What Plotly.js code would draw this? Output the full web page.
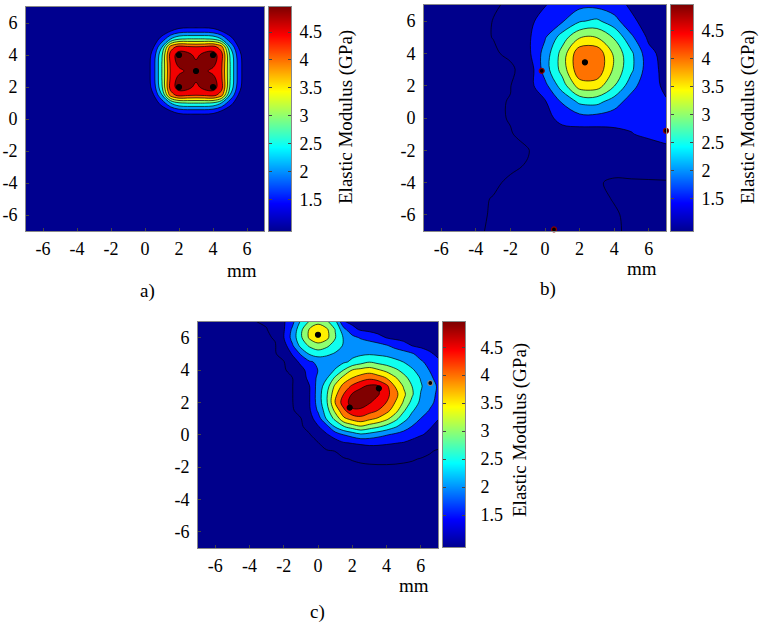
<!DOCTYPE html>
<html><head><meta charset="utf-8">
<script src="https://cdn.plot.ly/plotly-3.0.1.min.js"></script>
<style>html,body{margin:0;padding:0;background:#fff}#chart{width:762px;height:622px}</style>
</head><body><div id="chart"></div>
<script>
// ---------- panel a) field (mm grid) ----------
const aX = [-7,-1,0,0.5,1,1.5,2,2.5,3,3.5,4,4.5,5,5.5,6,7];
const aY = [-7,-1,0,0.5,1,1.5,2,2.5,3,3.5,4,4.5,5,5.5,6,7];
const aZ = [
 [1.02,1.02,1.02,1.02,1.02,1.02,1.02,1.02,1.02,1.02,1.02,1.02,1.02,1.02,1.02,1.02],
 [1.02,1.02,1.02,1.02,1.02,1.02,1.02,1.02,1.02,1.02,1.02,1.02,1.02,1.02,1.02,1.02],
 [1.02,1.02,1.02,1.02,1.02,1.03,1.03,1.03,1.03,1.03,1.03,1.03,1.02,1.02,1.02,1.02],
 [1.02,1.02,1.02,1.03,1.18,1.48,1.72,1.8,1.8,1.8,1.72,1.48,1.18,1.03,1.02,1.02],
 [1.02,1.02,1.02,1.18,1.7,2.48,2.95,3.02,3.02,3.02,2.95,2.48,1.7,1.18,1.02,1.02],
 [1.02,1.02,1.03,1.48,2.48,4.25,4.7,4.6,4.55,4.6,4.7,4.25,2.48,1.48,1.03,1.02],
 [1.02,1.02,1.03,1.72,2.95,4.7,5.25,5.2,4.85,5.2,5.25,4.7,2.95,1.72,1.03,1.02],
 [1.02,1.02,1.03,1.8,3.02,4.6,5.2,5.2,5.1,5.2,5.2,4.6,3.02,1.8,1.03,1.02],
 [1.02,1.02,1.03,1.8,3.02,4.55,4.85,5.1,5.3,5.1,4.85,4.55,3.02,1.8,1.03,1.02],
 [1.02,1.02,1.03,1.8,3.02,4.6,5.2,5.2,5.1,5.2,5.2,4.6,3.02,1.8,1.03,1.02],
 [1.02,1.02,1.03,1.72,2.95,4.7,5.25,5.2,4.85,5.2,5.25,4.7,2.95,1.72,1.03,1.02],
 [1.02,1.02,1.03,1.48,2.48,4.25,4.7,4.6,4.55,4.6,4.7,4.25,2.48,1.48,1.03,1.02],
 [1.02,1.02,1.02,1.18,1.7,2.48,2.95,3.02,3.02,3.02,2.95,2.48,1.7,1.18,1.02,1.02],
 [1.02,1.02,1.02,1.03,1.18,1.48,1.72,1.8,1.8,1.8,1.72,1.48,1.18,1.03,1.02,1.02],
 [1.02,1.02,1.02,1.02,1.02,1.03,1.03,1.03,1.03,1.03,1.03,1.03,1.02,1.02,1.02,1.02],
 [1.02,1.02,1.02,1.02,1.02,1.02,1.02,1.02,1.02,1.02,1.02,1.02,1.02,1.02,1.02,1.02]
];
const aDotX = [2,2,4,4,3];
const aDotY = [2,4,2,4,3];

// ---------- panel b) field ----------
const bX = [-7,-6,-5,-4,-3,-2,-1,0,1,2,3,4,5,6,7];
const bY = [-7,-6,-5,-4,-3,-2,-1,0,1,2,3,4,5,6,7];
const bZ = [
 [0.96,0.96,0.96,0.98,1.02,1.04,1.05,1.07,1.07,1.05,1.03,1.015,0.98,0.97,0.97],
 [0.96,0.96,0.96,0.98,1.01,1.03,1.04,1.05,1.05,1.04,1.03,1.01,0.98,0.97,0.97],
 [0.96,0.96,0.96,0.98,1.005,1.02,1.03,1.04,1.04,1.03,1.02,0.995,0.98,0.98,0.98],
 [0.96,0.96,0.96,0.97,0.98,1.02,1.04,1.05,1.05,1.04,1.01,0.984,0.985,0.986,0.988],
 [0.96,0.96,0.96,0.96,0.97,0.98,1.01,1.06,1.08,1.08,1.05,1.04,1.05,1.06,1.07],
 [0.96,0.96,0.96,0.96,0.96,0.97,0.99,1.1,1.15,1.15,1.15,1.15,1.2,1.25,1.3],
 [0.96,0.96,0.96,0.96,0.97,0.99,1.05,1.2,1.3,1.25,1.25,1.35,1.48,1.6,1.8],
 [0.96,0.96,0.96,0.96,0.97,1.01,1.1,1.35,1.65,1.8,1.8,1.72,1.62,1.6,1.7],
 [0.96,0.96,0.96,0.96,0.97,1.01,1.15,1.45,2.05,2.6,2.65,2.25,1.75,1.6,1.52],
 [0.96,0.96,0.96,0.96,0.97,0.99,1.3,1.85,2.75,3.75,3.75,3.03,2.2,1.6,1.45],
 [0.96,0.96,0.96,0.96,0.96,0.97,1.08,2.25,3.2,4.38,4.38,3.4,2.6,1.7,1.35],
 [0.96,0.96,0.96,0.97,0.98,1.03,1.35,2.2,3.2,4.38,4.38,3.4,2.6,1.65,1.3],
 [0.96,0.96,0.96,0.97,1.003,1.1,1.4,1.95,2.75,3.45,3.48,2.95,2.1,1.4,1.25],
 [0.96,0.96,0.96,0.97,1.003,1.1,1.4,1.65,1.95,2.45,2.6,2.2,1.6,1.3,1.15],
 [0.96,0.96,0.96,0.96,0.97,1.04,1.2,1.48,1.7,1.85,1.85,1.7,1.42,1.25,1.12]
];
const bPeakX = [2.31];
const bPeakY = [3.45];
const bEdgeX = [-0.19,7.0,0.52];
const bEdgeY = [2.92,-0.79,-6.9];

// ---------- panel c) field ----------
const cX = [-7,-4,-3,-2.5,-2,-1.5,-1,-0.5,0,0.5,1,1.5,2,2.5,3,3.5,4,4.5,5,5.5,6,6.5,7];
const cY = [-7,-4,-2,-1.5,-1,-0.5,0,0.5,1,1.5,2,2.5,3,3.5,4,4.5,5,5.5,6,6.5,7];
const cZ = [
 [0.96,0.96,0.96,0.96,0.96,0.96,0.96,0.96,0.96,0.96,0.96,0.96,0.96,0.96,0.96,0.96,0.96,0.96,0.96,0.96,0.96,0.96,0.96],
 [0.96,0.96,0.96,0.96,0.96,0.96,0.96,0.96,0.96,0.96,0.96,0.96,0.96,0.96,0.96,0.96,0.96,0.96,0.96,0.96,0.96,0.96,0.96],
 [0.96,0.96,0.96,0.96,0.96,0.96,0.96,0.96,0.96,0.96,0.96,0.96,0.96,0.96,0.96,0.96,0.96,0.96,0.96,0.96,0.96,0.96,0.96],
 [0.96,0.96,0.96,0.96,0.96,0.96,0.96,0.96,0.96,0.96,0.96,0.985,1.01,1.04,1.07,1.09,1.09,1.07,1.04,1.015,0.99,0.97,0.97],
 [0.96,0.96,0.96,0.96,0.96,0.96,0.96,0.96,0.96,0.98,1.003,1.08,1.15,1.21,1.26,1.28,1.27,1.24,1.2,1.14,1.08,1.02,0.98],
 [0.96,0.96,0.96,0.96,0.96,0.96,0.96,0.97,0.99,1.12,1.29,1.47,1.53,1.58,1.62,1.6,1.56,1.52,1.48,1.38,1.27,1.17,1.08],
 [0.96,0.96,0.96,0.96,0.96,0.96,0.96,0.98,1.13,1.44,1.72,2.01,2.19,2.4,2.31,2.17,2.03,1.9,1.78,1.65,1.53,1.42,1.3],
 [0.96,0.96,0.96,0.96,0.96,0.96,0.97,1.08,1.46,1.82,2.54,2.96,3.24,3.44,3.24,3.07,2.83,2.56,2.26,1.97,1.76,1.54,1.4],
 [0.96,0.96,0.96,0.96,0.96,0.97,0.99,1.31,1.75,2.56,3.13,3.9,4.19,4.35,4.14,3.94,3.63,3.17,2.68,2.31,1.99,1.75,1.52],
 [0.96,0.96,0.96,0.96,0.97,0.98,1.07,1.43,2.07,2.76,3.63,4.39,4.92,4.9,4.7,4.49,4.17,3.72,3.07,2.55,2.25,1.98,1.75],
 [0.96,0.96,0.96,0.96,0.97,0.99,1.13,1.47,2.22,2.92,4.01,4.76,5.21,5.28,5.05,4.78,4.49,3.99,3.44,2.83,2.39,2.12,1.88],
 [0.96,0.96,0.96,0.96,0.97,0.99,1.16,1.47,2.24,2.92,3.86,4.51,5.05,5.25,5.25,5.05,4.66,4.19,3.61,3.06,2.47,2.18,1.92],
 [0.96,0.96,0.96,0.96,0.97,0.99,1.18,1.48,2.21,2.75,3.61,4.17,4.59,4.9,5.1,5.05,4.62,3.97,3.45,2.99,2.55,2.22,1.95],
 [0.96,0.96,0.96,0.96,0.97,0.99,1.26,1.63,2.11,2.46,3.1,3.7,4.02,4.25,4.4,4.25,3.99,3.58,3.17,2.8,2.46,2.11,1.85],
 [0.96,0.96,0.96,0.96,0.97,1.08,1.36,1.67,2.01,2.26,2.53,3.01,3.51,3.65,3.74,3.56,3.35,3.1,2.83,2.56,2.28,1.99,1.75],
 [0.96,0.96,0.96,0.97,0.98,1.28,1.6,1.93,2.09,2.2,2.32,2.43,2.58,2.8,2.98,2.85,2.75,2.62,2.49,2.28,2.07,1.85,1.6],
 [0.96,0.96,0.96,0.98,1.12,1.54,2.06,2.55,2.74,2.6,2.45,2.4,2.4,2.42,2.45,2.42,2.38,2.3,2.2,2.05,1.8,1.58,1.4],
 [0.96,0.96,0.97,0.98,1.27,1.92,2.65,3.07,3.28,3.11,2.75,2.45,2.38,2.35,2.3,2.2,2.05,1.85,1.68,1.49,1.4,1.33,1.28],
 [0.96,0.96,0.97,1.02,1.48,2.17,2.91,3.58,3.92,3.65,3.04,2.45,2.17,1.94,1.78,1.63,1.48,1.4,1.35,1.3,1.25,1.2,1.17],
 [0.96,0.96,0.98,1.2,1.45,2.08,2.88,3.55,3.9,3.6,2.99,2.17,1.62,1.45,1.4,1.35,1.32,1.3,1.27,1.24,1.2,1.17,1.15],
 [0.96,0.96,1.06,1.25,1.44,1.84,2.57,3.03,3.3,3.08,2.66,1.52,1.4,1.35,1.32,1.3,1.27,1.25,1.22,1.2,1.17,1.15,1.13]
];
const cDotX = [0,3.55,1.85];
const cDotY = [6.18,2.87,1.68];
const cEdgeX = [6.55];
const cEdgeY = [3.2];

// ---------- levels, colours, ticks, texts ----------
const levelStart = 1.0, levelEnd = 5.0, levelStep = 0.5;
const bandColors = ['rgb(0,0,140)','rgb(0,0,143)','rgb(0,17,255)','rgb(0,144,255)','rgb(16,255,239)',
                    'rgb(142,255,113)','rgb(255,240,0)','rgb(255,114,0)','rgb(242,0,0)','rgb(128,0,0)'];
const jet = [[0,'rgb(0,0,143)'],[0.125,'rgb(0,0,255)'],[0.375,'rgb(0,255,255)'],
             [0.625,'rgb(255,255,0)'],[0.875,'rgb(255,0,0)'],[1,'rgb(128,0,0)']];
const cbRange = [0.93, 4.95];
const tickVals = [-6,-4,-2,0,2,4,6];
const tickText = ['-6','-4','-2','0','2','4','6'];
const cbTickVals = [1.5,2,2.5,3,3.5,4,4.5];
const cbTickText = ['1.5','2','2.5','3','3.5','4','4.5'];
const cbTitle = 'Elastic Modulus (GPa)';
const axisLabel = 'mm';
const panelLabels = ['a)','b)','c)'];

// ---------- layout geometry (pixels of the 762x622 page) ----------
const W = 762, H = 622;
const px = (x) => x / W;
const py = (y) => 1 - y / H;
const FONT = 'Liberation Serif, Times New Roman, serif';

const bandScale = bandColors.map((c, i) => [i / (bandColors.length - 1), c]);

function contourTrace(x, y, z, xa, ya) {
  return {type:'contour', x:x, y:y, z:z, xaxis:xa, yaxis:ya,
    autocontour:false,
    contours:{start:levelStart, end:levelEnd, size:levelStep, coloring:'fill', showlines:true},
    colorscale:bandScale, showscale:false,
    line:{color:'#000', width:0.7, smoothing:1},
    hoverinfo:'skip'};
}
function dotTrace(x, y, xa, ya, size, lineColor) {
  return {type:'scatter', mode:'markers', x:x, y:y, xaxis:xa, yaxis:ya, cliponaxis:false,
    marker:{color:'#000', size:size, line:{color:lineColor, width:1.2}},
    hoverinfo:'skip', showlegend:false};
}
function barTrace(xa, ya) {
  return {type:'heatmap', x:[0,1], y:cbRange,
    z:[[cbRange[0],cbRange[0]],[cbRange[1],cbRange[1]]],
    zsmooth:'best', colorscale:jet, zmin:cbRange[0], zmax:cbRange[1],
    showscale:false, xaxis:xa, yaxis:ya, hoverinfo:'skip'};
}

const data = [
  contourTrace(aX, aY, aZ, 'x', 'y'),
  dotTrace(aDotX, aDotY, 'x', 'y', 5, '#000'),
  contourTrace(bX, bY, bZ, 'x2', 'y2'),
  dotTrace(bPeakX, bPeakY, 'x2', 'y2', 5, '#000'),
  dotTrace(bEdgeX, bEdgeY, 'x2', 'y2', 5, '#8b0000'),
  contourTrace(cX, cY, cZ, 'x3', 'y3'),
  dotTrace(cDotX, cDotY, 'x3', 'y3', 5, '#000'),
  dotTrace(cEdgeX, cEdgeY, 'x3', 'y3', 5, '#888'),
  barTrace('x4', 'y4'),
  barTrace('x5', 'y5'),
  barTrace('x6', 'y6')
];

function plotX(l, r, anchor) {
  return {domain:[px(l), px(r)], anchor:anchor, range:[-7,7],
    tickmode:'array', tickvals:tickVals, ticktext:tickText,
    ticks:'inside', ticklen:3, tickcolor:'#444', showline:true, linecolor:'#888', linewidth:1,
    mirror:true, showgrid:false, zeroline:false, ticklabelstandoff:1,
    tickfont:{family:FONT, size:18, color:'#000'}, fixedrange:true};
}
function plotY(t, b, anchor) {
  return {domain:[py(b), py(t)], anchor:anchor, range:[-7,7],
    tickmode:'array', tickvals:tickVals, ticktext:tickText,
    ticks:'inside', ticklen:3, tickcolor:'#444', showline:true, linecolor:'#888', linewidth:1,
    mirror:true, showgrid:false, zeroline:false, ticklabelstandoff:4,
    tickfont:{family:FONT, size:18, color:'#000'}, fixedrange:true};
}
function barX(l, r, anchor) {
  return {domain:[px(l), px(r)], anchor:anchor, range:[0,1], showticklabels:false, ticks:'',
    showline:true, linecolor:'#888', linewidth:1, mirror:true, showgrid:false, zeroline:false, fixedrange:true};
}
function barY(t, b, anchor, standoff) {
  return {domain:[py(b), py(t)], anchor:anchor, side:'right', range:cbRange,
    tickmode:'array', tickvals:cbTickVals, ticktext:cbTickText,
    ticks:'inside', ticklen:3, tickcolor:'#444', showline:true, linecolor:'#888', linewidth:1,
    mirror:'ticks', showgrid:false, zeroline:false, ticklabelstandoff:standoff,
    tickfont:{family:FONT, size:18, color:'#000'}, fixedrange:true};
}
function note(text, x, y, angle, size) {
  return {text:text, x:px(x), y:py(y), xref:'paper', yref:'paper', showarrow:false,
    xanchor:'center', yanchor:'middle', textangle:angle || 0,
    font:{family:FONT, size:size || 19, color:'#000'}};
}

const layout = {
  width:W, height:H, margin:{l:0, r:0, t:0, b:0},
  paper_bgcolor:'#fff', plot_bgcolor:'#fff', showlegend:false,
  xaxis: plotX(26, 264, 'y'),   yaxis: plotY(7, 231, 'x'),
  xaxis2: plotX(424, 666, 'y2'), yaxis2: plotY(5, 231, 'x2'),
  xaxis3: plotX(198, 438, 'y3'), yaxis3: plotY(321.5, 548, 'x3'),
  xaxis4: barX(269, 291, 'y4'),  yaxis4: barY(7, 231, 'x4', 4),
  xaxis5: barX(671, 693, 'y5'),  yaxis5: barY(5, 231, 'x5', 4),
  xaxis6: barX(443, 465, 'y6'),  yaxis6: barY(322, 547, 'x6', 11),
  annotations: [
    note(axisLabel, 242, 270), note(axisLabel, 642, 268), note(axisLabel, 414, 585),
    note(panelLabels[0], 147, 291), note(panelLabels[1], 548, 289), note(panelLabels[2], 317, 612),
    note(cbTitle, 346, 117, -90), note(cbTitle, 748, 117, -90), note(cbTitle, 520, 430, -90)
  ]
};

Plotly.newPlot('chart', data, layout, {staticPlot:true, displayModeBar:false});
</script></body></html>
